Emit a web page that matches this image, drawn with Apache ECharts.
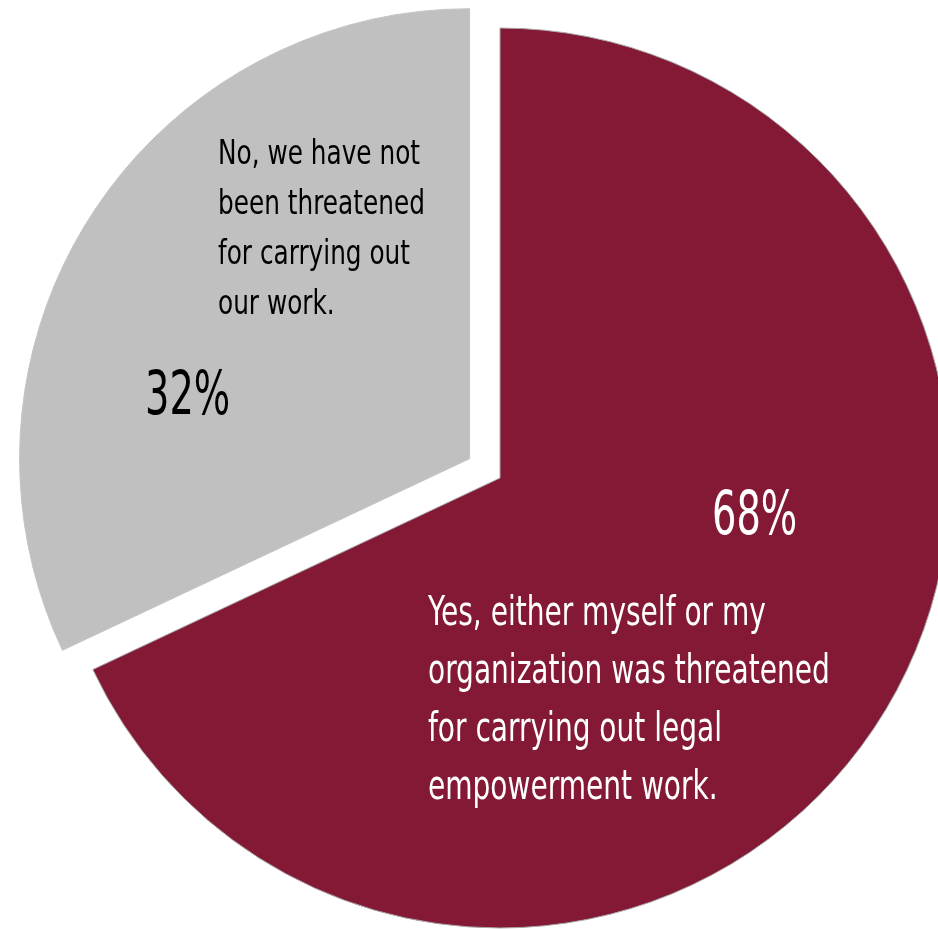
<!DOCTYPE html>
<html>
<head>
<meta charset="utf-8">
<script src="https://cdn.jsdelivr.net/npm/echarts@6/dist/echarts.min.js"></script>
<style>
html,body{margin:0;padding:0;background:#fff;}
#chart{width:938px;height:929px;}
</style>
</head>
<body>
<div id="chart"></div>
<script>
// Data
var categoryLines = [
  ['Yes, either myself or my', 'organization was threatened', 'for carrying out legal', 'empowerment work.'],
  ['No, we have not', 'been threatened', 'for carrying out', 'our work.']
];
var values = [68, 32];
var colors = ['#841936', '#c0c0c0'];
var textColors = ['#ffffff', '#000000'];

var FONT = '"DejaVu Sans Condensed", "DejaVu Sans", sans-serif';

// Annotation layout (text positions only)
var textLayout = [
  { x: 428, y0: 614, step: 58, size: 41, scale: 0.76, px: 712, py: 518, psize: 60, pscale: 0.71 },
  { x: 218, y0: 155, step: 50, size: 34, scale: 0.81, px: 145, py: 398, psize: 60, pscale: 0.71 }
];

var pieData = values.map(function (v, i) {
  return {
    name: categoryLines[i].join(' '),
    value: v,
    selected: i === 1,
    itemStyle: { color: colors[i], borderColor: i === 0 ? '#a9a9a9' : '#c4c4c4', borderWidth: 1 }
  };
});

var graphics = [];
values.forEach(function (v, i) {
  var L = textLayout[i];
  categoryLines[i].forEach(function (line, k) {
    graphics.push({
      type: 'text', x: L.x, y: L.y0 + k * L.step, scaleX: L.scale, silent: true, z: 100,
      style: { text: line, fontFamily: FONT, fontSize: L.size, fill: textColors[i], align: 'left', verticalAlign: 'middle' }
    });
  });
  graphics.push({
    type: 'text', x: L.px, y: L.py, scaleX: L.pscale, silent: true, z: 100,
    style: { text: v + '%', fontFamily: FONT, fontSize: L.psize, fill: textColors[i], align: 'left', verticalAlign: 'middle' }
  });
});

var chart = echarts.init(document.getElementById('chart'), null, { renderer: 'canvas' });
chart.setOption({
  animation: false,
  graphic: graphics,
  series: [{
    type: 'pie',
    center: [500, 478],
    radius: 450,
    startAngle: 90,
    clockwise: true,
    selectedMode: 'single',
    selectedOffset: 36,
    silent: true,
    emphasis: { disabled: true },
    label: { show: false },
    labelLine: { show: false },
    data: pieData
  }]
});
</script>
</body>
</html>
